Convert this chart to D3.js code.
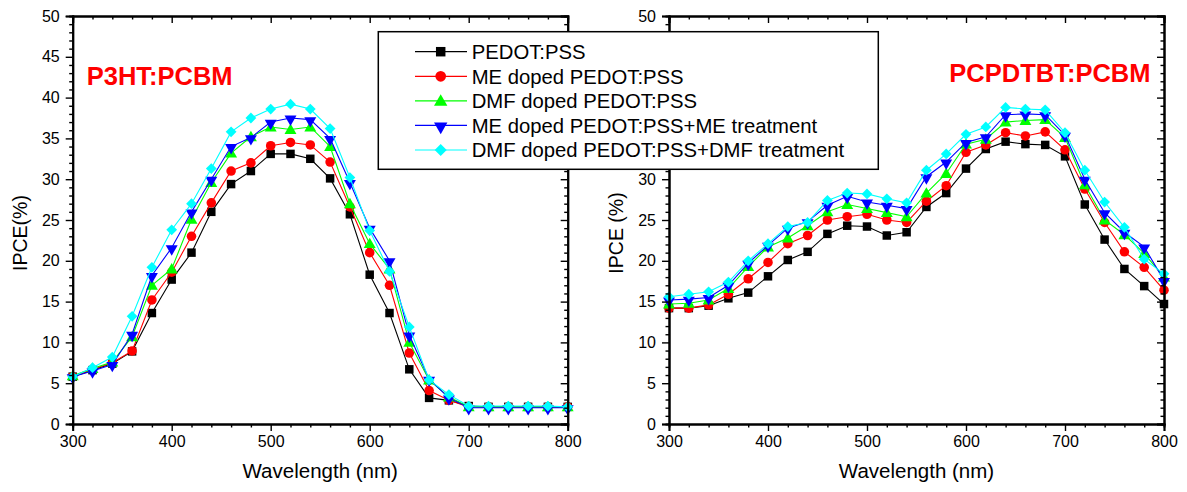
<!DOCTYPE html>
<html><head><meta charset="utf-8">
<script src="https://cdn.jsdelivr.net/npm/d3@7"></script>
<style>
html,body{margin:0;padding:0;background:#fff;}
svg{display:block;}
text{font-family:"Liberation Sans",Arial,sans-serif;}
</style></head>
<body>
<svg id="chart" width="1187" height="492"></svg>
<script>
// ---------- data ----------
const wavelengths = d3.range(300, 801, 20);
const seriesNames = ["PEDOT:PSS","ME doped PEDOT:PSS","DMF doped PEDOT:PSS","ME doped PEDOT:PSS+ME treatment","DMF doped PEDOT:PSS+DMF treatment"];
const seriesColors = ["#000000","#ff0000","#00ff00","#0000ff","#00ffff"];
const seriesSymbols = ["square","circle","triangle","triangleDown","diamond"];

// P3HT:PCBM panel
const p3ht_pedot    = [5.8,6.6,7.4,8.9,13.6,17.7,21.0,26.0,29.4,31.0,33.1,33.1,32.5,30.1,25.7,18.3,13.6,6.7,3.2,2.9,2.2,2.1,2.1,2.1,2.1,2.1];
const p3ht_me       = [5.8,6.7,7.5,8.95,15.2,18.6,23.0,27.1,31.0,32.0,34.1,34.5,34.2,32.1,26.6,21.0,17.0,8.7,4.1,2.9,2.1,2.1,2.1,2.1,2.1,2.1];
const p3ht_dmf      = [5.9,6.8,7.6,10.7,17.0,19.0,25.1,29.6,33.2,35.2,36.4,36.1,36.4,34.0,27.0,22.1,19.0,10.0,5.4,3.3,2.1,2.1,2.1,2.1,2.1,2.1];
const p3ht_me_tr    = [5.8,6.5,7.3,11.0,18.2,21.6,26.0,30.0,34.0,35.1,37.0,37.5,37.3,35.0,29.6,24.0,20.0,10.9,5.5,3.2,2.0,2.0,2.0,2.0,2.0,2.0];
const p3ht_dmf_tr   = [5.8,6.9,8.2,13.2,19.2,23.8,27.0,31.3,35.8,37.5,38.6,39.2,38.6,36.2,30.2,23.7,18.7,11.9,5.4,3.6,2.2,2.2,2.2,2.2,2.2,2.1];

// PCPDTBT:PCBM panel
const pcpdtbt_pedot  = [14.2,14.2,14.5,15.4,16.1,18.1,20.1,21.1,23.3,24.3,24.2,23.1,23.5,26.6,28.3,31.3,33.7,34.6,34.3,34.2,32.8,26.9,22.6,19.0,16.9,14.7];
const pcpdtbt_me     = [14.2,14.2,14.6,15.9,17.8,19.8,22.1,23.1,25.0,25.4,25.7,25.0,24.7,27.3,29.2,33.3,34.2,35.7,35.3,35.8,33.6,28.8,24.7,21.1,19.2,16.4];
const pcpdtbt_dmf    = [14.7,14.8,15.2,16.6,19.3,21.7,22.8,24.3,26.0,26.9,26.4,25.9,25.4,28.3,30.7,34.3,34.9,37.0,37.2,37.3,35.1,29.3,25.0,23.2,20.9,18.0];
const pcpdtbt_me_tr  = [15.2,15.3,15.5,17.0,19.7,21.9,24.0,24.8,26.8,27.9,27.2,26.8,26.4,30.3,32.1,34.5,35.2,37.9,38.0,37.9,35.4,30.0,25.9,23.5,21.7,17.6];
const pcpdtbt_dmf_tr = [15.6,15.9,16.2,17.4,20.0,22.1,24.2,24.7,27.4,28.3,28.2,27.6,27.1,31.1,33.1,35.5,36.4,38.8,38.6,38.5,35.7,31.1,27.2,24.1,20.2,18.4];

const xTicks = [300,400,500,600,700,800];
const yTicks = [0,5,10,15,20,25,30,35,40,45,50];
const panelTitles = ["P3HT:PCBM","PCPDTBT:PCBM"];
const yTitles = ["IPCE(%)","IPCE (%)"];
const xTitle = "Wavelength (nm)";

// ---------- drawing ----------
const svg = d3.select("#chart");

const legendBox = {x:378.3, y:31.7, w:500, h:137.6};

const panels = [
  {series:[p3ht_pedot,p3ht_me,p3ht_dmf,p3ht_me_tr,p3ht_dmf_tr], x0:72.7, x1:567.7, title:panelTitles[0], tx:86.7, ty:85, tsize:25.5, ytitle:yTitles[0], ytx:27},
  {series:[pcpdtbt_pedot,pcpdtbt_me,pcpdtbt_dmf,pcpdtbt_me_tr,pcpdtbt_dmf_tr], x0:669, x1:1164, title:panelTitles[1], tx:949.3, ty:82, tsize:25.5, ytitle:yTitles[1], ytx:623}
];
const yTop = 16, yBot = 424;

function symbolPath(kind, s){
  const types = {square:d3.symbolSquare, circle:d3.symbolCircle, triangle:d3.symbolTriangle, triangleDown:d3.symbolTriangle, diamond:d3.symbolSquare};
  const sizes = {square:72, circle:72, triangle:62, triangleDown:62, diamond:58};
  return d3.symbol().type(types[kind]).size(sizes[kind]*s)();
}
function symbolTransform(kind, x, y){
  if(kind==="triangleDown") return `translate(${x},${y+1}) rotate(180)`;
  if(kind==="triangle") return `translate(${x},${y+1})`;
  if(kind==="diamond") return `translate(${x},${y}) rotate(45)`;
  return `translate(${x},${y})`;
}

panels.forEach((p,pi) => {
  const x = d3.scaleLinear().domain([300,800]).range([p.x0,p.x1]);
  const y = d3.scaleLinear().domain([0,50]).range([yBot,yTop]);
  const g = svg.append("g");

  // data
  p.series.forEach((vals,i) => {
    const pts = wavelengths.map((w,j)=>[w,vals[j]]);
    g.append("path").datum(pts)
      .attr("fill","none").attr("stroke",seriesColors[i]).attr("stroke-width",1.1)
      .attr("d", d3.line().x(d=>x(d[0])).y(d=>y(d[1])));
    g.selectAll(null).data(pts).enter().append("path")
      .attr("d", symbolPath(seriesSymbols[i],1))
      .attr("transform", d=>symbolTransform(seriesSymbols[i], x(d[0]), y(d[1])))
      .attr("fill",seriesColors[i]);
  });

  // axes
  const minorX = d3.range(300,801,20);
  const minorY = d3.range(0,51,1);
  // labels hidden behind the legend box are not drawn (the reference shows none there)
  const visibleLabel = v => !(p.x0 > legendBox.x && p.x0 < legendBox.x+legendBox.w &&
                              y(v) > legendBox.y && y(v) < legendBox.y+legendBox.h);
  g.append("g").attr("transform",`translate(${p.x0},0)`)
    .call(d3.axisLeft(y).tickValues(yTicks).tickSize(7).tickPadding(6)
      .tickFormat(v => visibleLabel(v) ? d3.format("d")(v) : ""));
  g.append("g").attr("transform",`translate(${p.x0},0)`)
    .call(d3.axisLeft(y).tickValues(minorY.filter(v=>v%5)).tickSize(3.5).tickFormat(""));
  g.append("g").attr("transform",`translate(0,${yBot})`)
    .call(d3.axisBottom(x).tickValues(xTicks).tickSize(7).tickPadding(5).tickFormat(d3.format("d")));
  g.append("g").attr("transform",`translate(0,${yBot})`)
    .call(d3.axisBottom(x).tickValues(minorX.filter(v=>v%100)).tickSize(3.5).tickFormat(""));
  // top (ticks pointing inward/down)
  g.append("g").attr("transform",`translate(0,${yTop})`)
    .call(d3.axisBottom(x).tickValues(xTicks).tickSize(7).tickFormat(""));
  g.append("g").attr("transform",`translate(0,${yTop})`)
    .call(d3.axisBottom(x).tickValues(minorX.filter(v=>v%100)).tickSize(3.5).tickFormat(""));
  // right (ticks pointing inward/left)
  g.append("g").attr("transform",`translate(${p.x1},0)`)
    .call(d3.axisLeft(y).tickValues(yTicks).tickSize(7).tickFormat(""));
  g.append("g").attr("transform",`translate(${p.x1},0)`)
    .call(d3.axisLeft(y).tickValues(minorY.filter(v=>v%5)).tickSize(3.5).tickFormat(""));

  g.selectAll(".domain").attr("stroke","#000").attr("stroke-width",2);
  g.selectAll(".tick line").attr("stroke","#000").attr("stroke-width",1.4);
  g.selectAll(".tick text").attr("font-size",16).attr("fill","#000")
    .attr("font-family",'"Liberation Sans",Arial,sans-serif');
  g.selectAll(".tick text").filter(function(){ return this.textContent===""; }).remove();

  // titles
  g.append("text").attr("x",p.tx).attr("y",p.ty).text(p.title)
    .attr("fill","#ff0000").attr("font-weight","bold").attr("font-size",p.tsize);
  g.append("text").attr("transform",`translate(${p.ytx},233) rotate(-90)`)
    .attr("text-anchor","middle").attr("font-size",19.5).text(p.ytitle);
  g.append("text").attr("x",(p.x0+p.x1)/2).attr("y",478)
    .attr("text-anchor","middle").attr("font-size",20.5).text(xTitle);
});

// legend
const lg = svg.append("g");
lg.append("rect").attr("x",legendBox.x).attr("y",legendBox.y).attr("width",legendBox.w).attr("height",legendBox.h)
  .attr("fill","#fff").attr("stroke","#000").attr("stroke-width",1.5);
const legY = d3.scaleLinear().domain([0,4]).range([51.7,150]);
seriesNames.forEach((name,i)=>{
  const yy = legY(i);
  lg.append("line").attr("x1",415).attr("x2",467).attr("y1",yy).attr("y2",yy)
    .attr("stroke",seriesColors[i]).attr("stroke-width",1.2);
  lg.append("path").attr("d",symbolPath(seriesSymbols[i],1.25))
    .attr("transform",symbolTransform(seriesSymbols[i],440.7,yy)).attr("fill",seriesColors[i]);
  lg.append("text").attr("x",471.7).attr("y",yy).attr("dy","0.36em")
    .attr("font-size",20.3).attr("fill","#000").text(name);
});
</script>
</body></html>
